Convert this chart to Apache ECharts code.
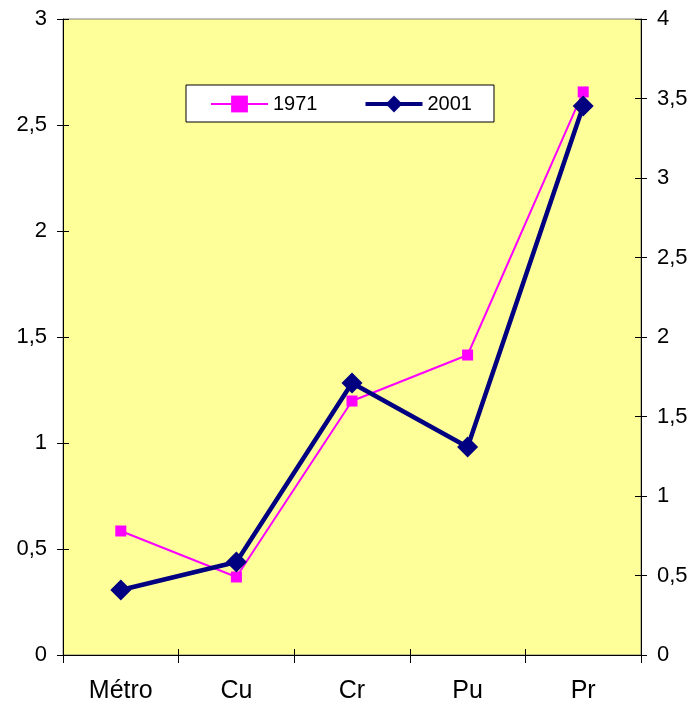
<!DOCTYPE html>
<html>
<head>
<meta charset="utf-8">
<script src="https://cdn.jsdelivr.net/npm/echarts@6/dist/echarts.min.js"></script>
<style>
html,body{margin:0;padding:0;background:#fff;}
#chart{width:693px;height:711px;}
</style>
</head>
<body>
<div id="chart"></div>
<script>
var categories = ['Métro', 'Cu', 'Cr', 'Pu', 'Pr'];
var values1971 = [0.585, 0.368, 1.198, 1.415, 2.656];
var values2001 = [0.409, 0.585, 1.711, 1.308, 3.453];
var leftTicks = ['0', '0,5', '1', '1,5', '2', '2,5', '3'];
var rightTicks = ['0', '0,5', '1', '1,5', '2', '2,5', '3', '3,5', '4'];

var fontFam = '"Liberation Sans", Arial, sans-serif';
var chart = echarts.init(document.getElementById('chart'), null, {renderer: 'canvas'});

chart.setOption({
  animation: false,
  backgroundColor: '#ffffff',
  textStyle: {fontFamily: fontFam},
  grid: {
    left: 63, right: 52, top: 19, bottom: 56,
    show: true, backgroundColor: '#FFFF99', borderColor: '#808080', borderWidth: 1
  },
  legend: {
    left: 186, top: 85,
    padding: [9, 22, 8, 24],
    backgroundColor: '#ffffff',
    borderColor: '#000000',
    borderWidth: 1,
    borderRadius: 0,
    itemWidth: 57,
    itemHeight: 21,
    itemGap: 46,
    textStyle: {fontSize: 20, color: '#000', fontFamily: fontFam},
    data: [
      {name: '1971', lineStyle: {width: 2}},
      {name: '2001', lineStyle: {width: 4}}
    ]
  },
  xAxis: [{
    type: 'category',
    data: categories,
    boundaryGap: true,
    axisLine: {lineStyle: {color: '#000', width: 1}},
    axisTick: {show: true, length: 8, lineStyle: {color: '#000'}},
    axisLabel: {fontSize: 25, color: '#000', margin: 24, fontFamily: fontFam}
  }, {
    type: 'category',
    data: categories,
    position: 'bottom',
    boundaryGap: true,
    axisLine: {show: false},
    axisTick: {show: true, inside: true, length: 6, lineStyle: {color: '#000'}},
    axisLabel: {show: false}
  }],
  yAxis: [{
    type: 'value',
    min: 0, max: 3, interval: 0.5,
    position: 'left',
    splitLine: {show: false},
    axisLine: {show: true, lineStyle: {color: '#000', width: 1}},
    axisTick: {show: true, length: 6, lineStyle: {color: '#000'}},
    axisLabel: {fontSize: 22, color: '#000', margin: 16, fontFamily: fontFam,
      formatter: function(v){ var i = Math.round(v / 0.5); return leftTicks[i]; }}
  }, {
    type: 'value',
    min: 0, max: 4, interval: 0.5,
    position: 'right',
    splitLine: {show: false},
    axisLine: {show: true, lineStyle: {color: '#000', width: 1}},
    axisTick: {show: true, length: 6, lineStyle: {color: '#000'}},
    axisLabel: {fontSize: 22, color: '#000', margin: 16, fontFamily: fontFam,
      formatter: function(v){ var i = Math.round(v / 0.5); return rightTicks[i]; }}
  }, {
    type: 'value',
    min: 0, max: 3, interval: 0.5,
    position: 'left',
    splitLine: {show: false},
    axisLine: {show: false},
    axisTick: {show: true, inside: true, length: 6, lineStyle: {color: '#000'}},
    axisLabel: {show: false}
  }, {
    type: 'value',
    min: 0, max: 4, interval: 0.5,
    position: 'right',
    splitLine: {show: false},
    axisLine: {show: false},
    axisTick: {show: true, inside: true, length: 6, lineStyle: {color: '#000'}},
    axisLabel: {show: false}
  }],
  series: [{
    name: '1971',
    type: 'line',
    yAxisIndex: 0,
    data: values1971,
    symbol: 'rect',
    symbolSize: 11,
    itemStyle: {color: '#FF00FF'},
    lineStyle: {color: '#FF00FF', width: 2},
    z: 2
  }, {
    name: '2001',
    type: 'line',
    yAxisIndex: 1,
    data: values2001,
    symbol: 'diamond',
    symbolSize: 21,
    itemStyle: {color: '#000080'},
    lineStyle: {color: '#000080', width: 4.5},
    z: 3
  }]
});
</script>
</body>
</html>
